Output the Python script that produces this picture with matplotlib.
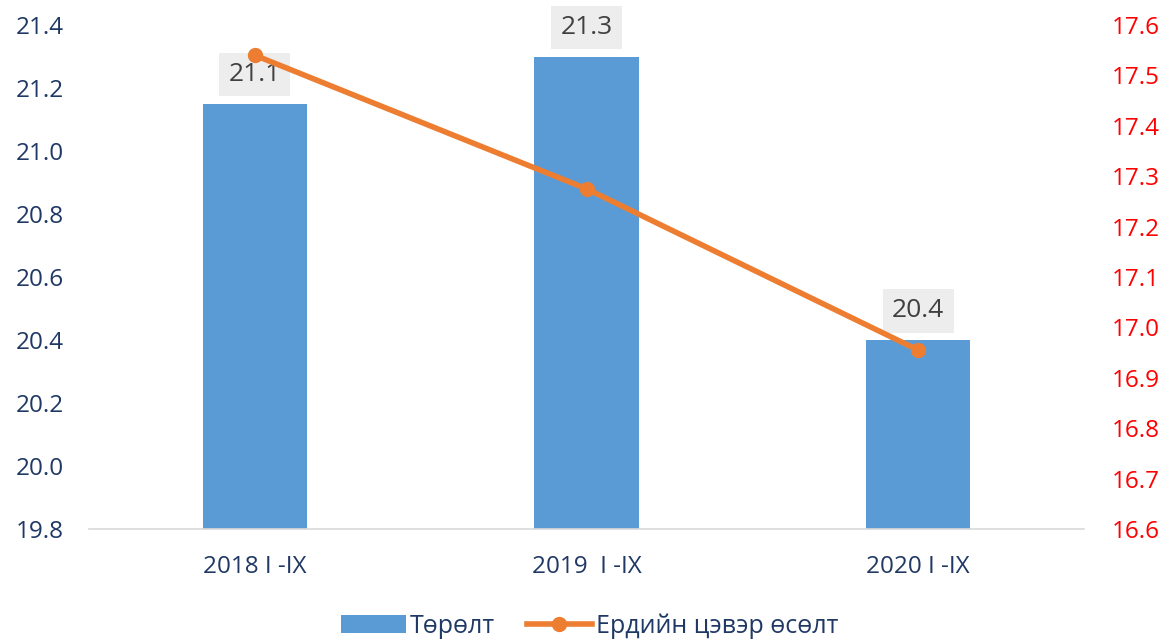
import matplotlib
matplotlib.use("Agg")
import matplotlib.pyplot as plt

categories = ["2018 I -IX", "2019  I -IX", "2020 I -IX"]
births = [21.15, 21.3, 20.4]
birth_labels = ["21.1", "21.3", "20.4"]
growth = [17.54, 17.275, 16.955]

plt.rcParams['font.family'] = ['Open Sans', 'DejaVu Sans']

fig = plt.figure(figsize=(11.67, 6.39), dpi=100)
ax = fig.add_axes([89/1167, 1-529/639, (1084-89)/1167, (529-25)/639])
ax2 = ax.twinx()

x = list(range(len(categories)))
bars = ax.bar(x, births, width=0.314, color="#5B9BD5", label="Төрөлт", zorder=2)
ax.set_ylim(19.8, 21.4)
ax.set_xlim(-0.5, 2.5)
ax.set_yticks([19.8 + 0.2*i for i in range(9)])
ax.set_yticklabels([f"{19.8 + 0.2*i:.1f}" for i in range(9)])
ax.tick_params(axis='y', colors="#1F3864", labelsize=17.5, length=0, pad=18)
ax.tick_params(axis='x', colors="#1F3864", labelsize=17.5, length=0, pad=19)
ax.set_xticks(x)
ax.set_xticklabels(categories)

line, = ax2.plot(x, growth, color="#ED7D31", lw=4, marker='o', ms=10,
                 label="Ердийн цэвэр өсөлт", zorder=3)
ax2.set_ylim(16.6, 17.6)
ax2.set_yticks([16.6 + 0.1*i for i in range(11)])
ax2.set_yticklabels([f"{16.6 + 0.1*i:.1f}" for i in range(11)])
ax2.tick_params(axis='y', colors="#FF0000", labelsize=17.5, length=0, pad=20)

for a in (ax, ax2):
    for s in a.spines.values():
        s.set_visible(False)
ax.spines['bottom'].set_visible(True)
ax.spines['bottom'].set_color("#D9D9D9")
ax.spines['bottom'].set_linewidth(1.2)

ax.set_zorder(ax2.get_zorder() - 1)
ax2.patch.set_visible(False)

for xi, v, lab in zip(x, births, birth_labels):
    ax.annotate(lab, xy=(xi, v), xytext=(0, 21), textcoords='offset points',
                ha='center', va='center', fontsize=19, color="#404040",
                bbox=dict(boxstyle='square,pad=0.35', fc="#EDEDED", ec='none'),
                zorder=5, annotation_clip=False)

leg = fig.legend([bars, line], ["Төрөлт", "Ердийн цэвэр өсөлт"], loc='lower center',
                 bbox_to_anchor=(0.505, -0.035), ncol=2, frameon=False, fontsize=18,
                 handlelength=2.6, columnspacing=1.3, handletextpad=0.15)
for t in leg.get_texts():
    t.set_color("#1F3864")

fig.savefig("out.png", dpi=100)
